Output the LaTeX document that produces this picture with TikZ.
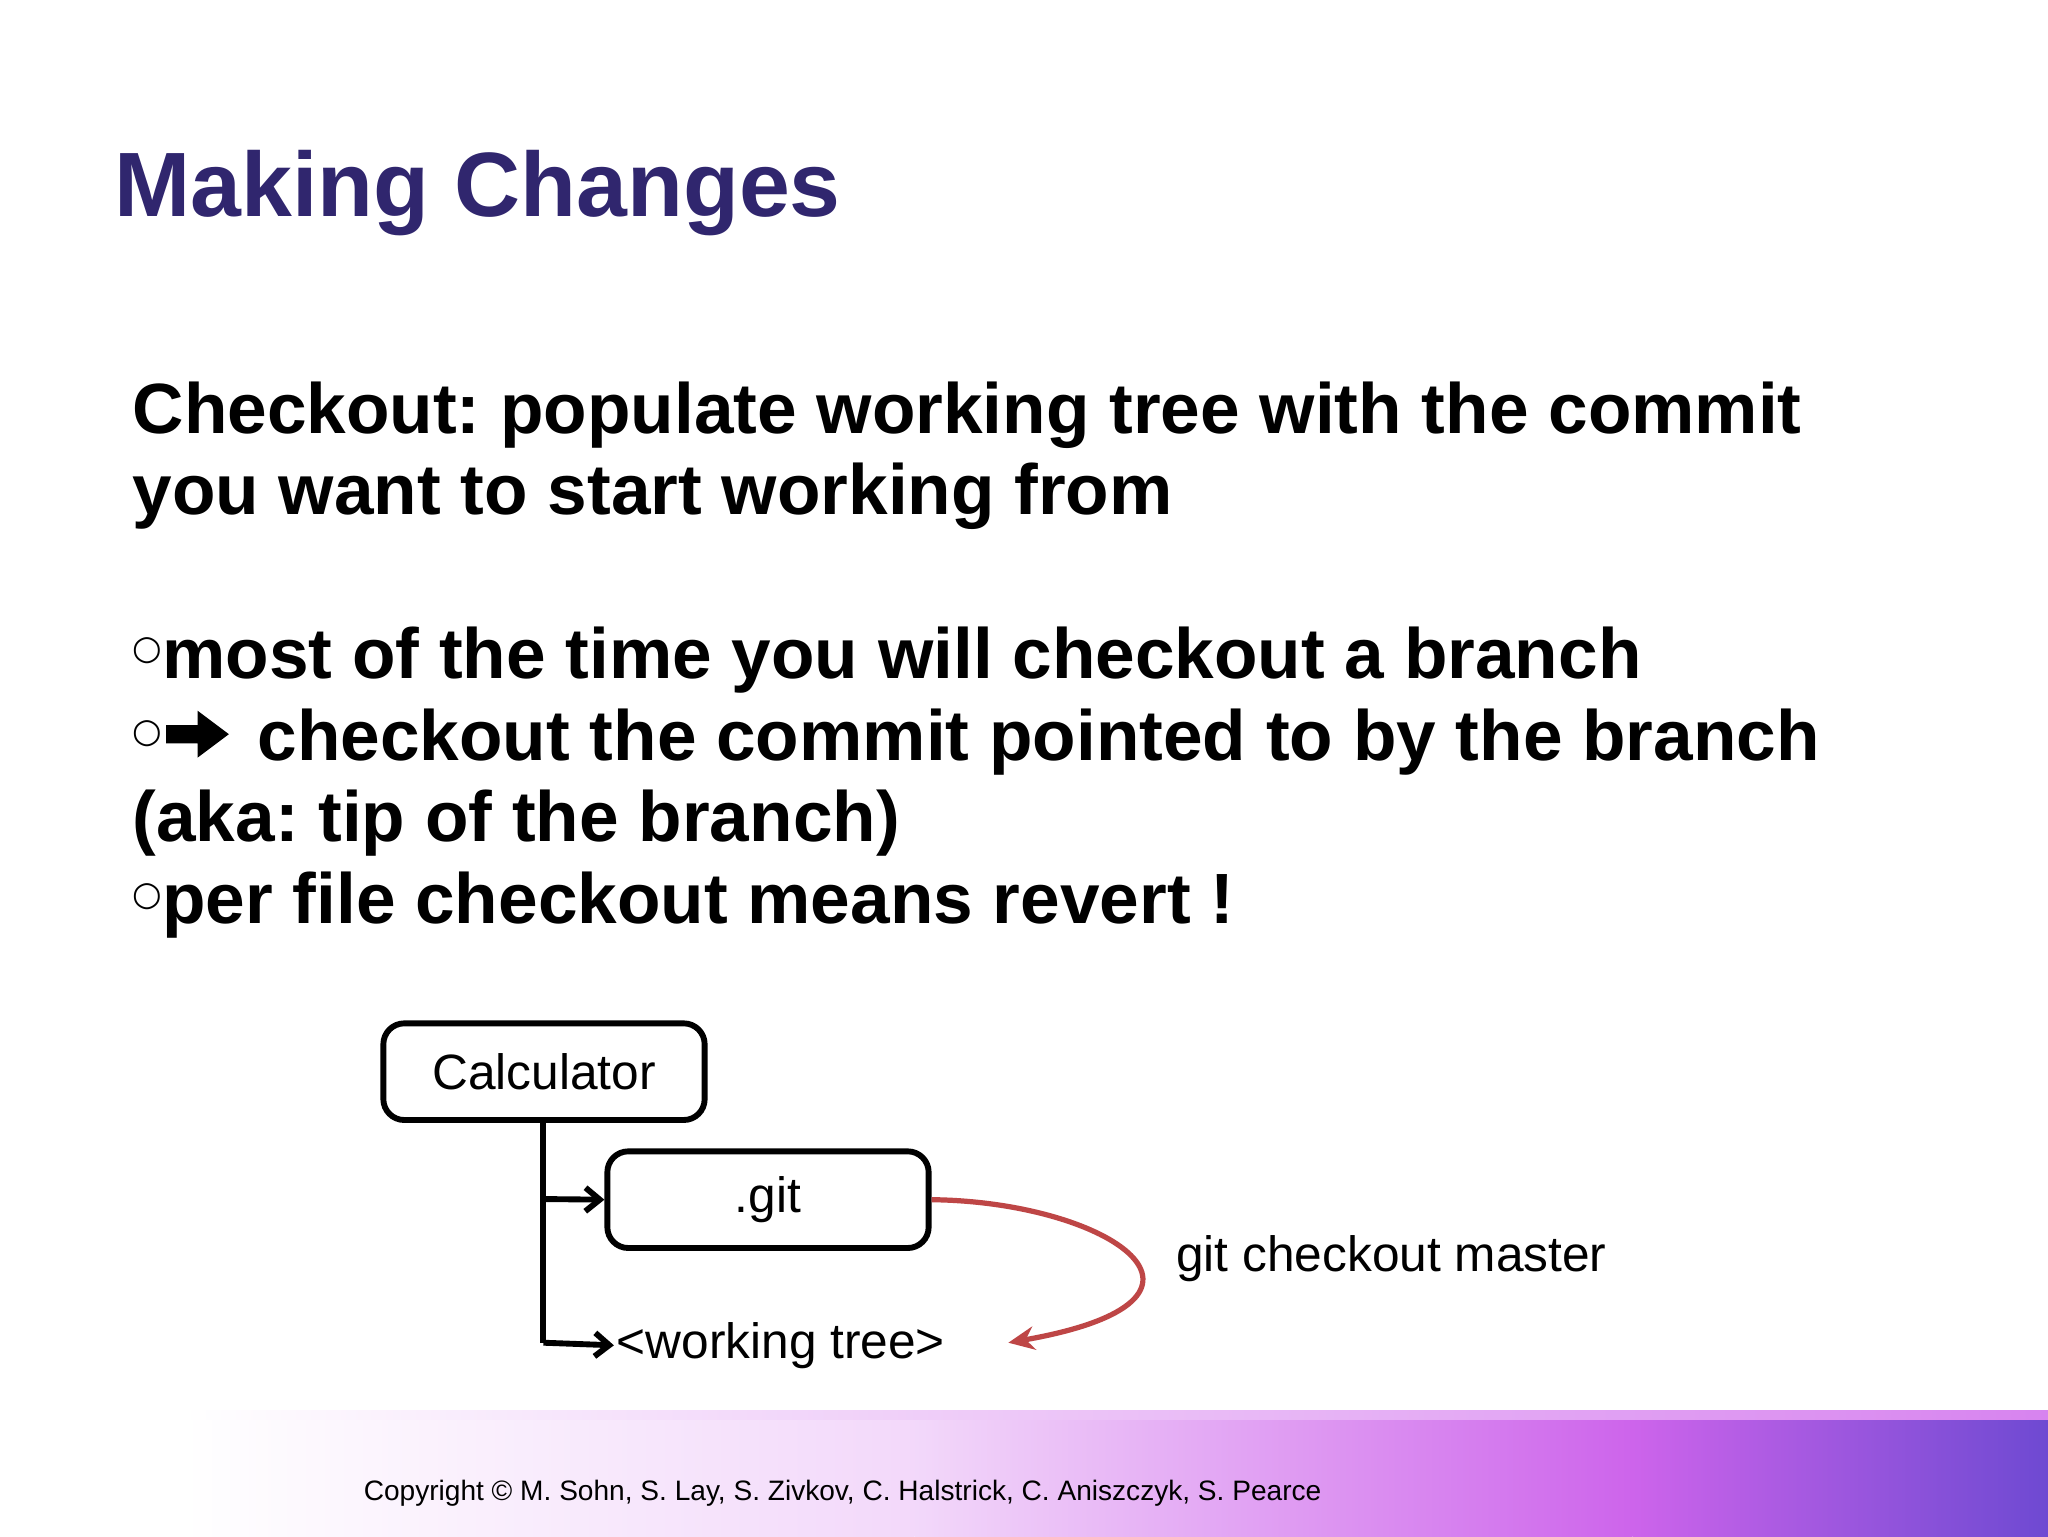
\documentclass[tikz,border=0pt]{standalone}
\usepackage{fontspec}
\setmainfont{Liberation Sans}
\newfontfamily\symfont{DejaVu Sans}
\usetikzlibrary{arrows.meta}
\frenchspacing
\definecolor{titleblue}{RGB}{48,38,110}
\definecolor{arrred}{RGB}{190,70,70}
\definecolor{purp}{RGB}{205,100,235}
\newcommand{\bul}{{\symfont\fontsize{26}{26}\selectfont\raisebox{14pt}{○}}}
\newcommand{\bigarr}{\tikz[baseline=0pt,x=1pt,y=1pt]\fill (0,13)--(24,13)--(24,2)--(48,20)--(24,38)--(24,27)--(0,27)--cycle;}
\begin{document}
\begin{tikzpicture}[x=1pt,y=-1pt,
  box/.style={draw,line width=4.5pt,rounded corners=16pt,minimum width=246pt,minimum height=74pt,font=\fontsize{38}{40}\selectfont},
  body/.style={anchor=west,font=\fontsize{54.5}{58}\selectfont\bfseries},
  tip/.style={-{Straight Barb[length=11pt,width=18pt,line width=4.5pt]},line width=4.5pt}]
\useasboundingbox (0,0) rectangle (1568,1176);
\fill[white] (0,0) rectangle (1568,1176);
% footer
\shade[left color=white,right color=purp!25] (140,1082) rectangle (700,1176);
\shade[left color=purp!25,right color=purp] (700,1082) rectangle (1250,1176);
\shade[left color=purp,right color=purp!50!blue!70!gray] (1250,1082) rectangle (1568,1176);
\shade[left color=white,right color=purp!80] (140,1080) rectangle (1568,1087);
\node[anchor=west,font=\fontsize{21.5}{24}\selectfont] (copy) at (275,1143) {Copyright © M. Sohn, S. Lay, S. Zivkov, C. Halstrick, C. Aniszczyk, S. Pearce};
% title
\node[anchor=west,text=titleblue,font=\fontsize{70}{72}\selectfont\bfseries] (title) at (84,148) {Making Changes};
\node[body] (l1) at (98,318) {Checkout: populate working tree with the commit};
\node[body] (l2) at (98,380) {you want to start working from};
\node[body] (l3) at (98,505) {\bul most of the time you will checkout a branch};
\node[body] (l4) at (98,568) {\bul\hspace{3pt}\bigarr\hspace{22pt}checkout the commit pointed to by the branch};
\node[body] (l5) at (98,630) {(aka: tip of the branch)};
\node[body] (l6) at (98,693) {\bul per file checkout means revert !};
% diagram
\node[box] (calc) at (416.5,820.5) {Calculator};
\node[box] (git) at (588,918.5) {.git};
\node[anchor=west,font=\fontsize{38}{40}\selectfont,inner sep=2pt] (wt) at (470,1030) {<working tree>};
\coordinate (c0) at (416,858);
\coordinate (c1) at (416,918);
\coordinate (c2) at (416,1028);
\draw[line width=4.5pt] (calc.south -| c0) -- (c2);
\draw[tip] (c1) -- (git.west);
\draw[tip] (c2) -- (wt.west);
\coordinate (rend) at (772,1028);
\draw[arrred,line width=4pt,-{Stealth[length=20pt,width=18pt]}] (git.east) .. controls (850,920) and (960,995) .. (rend);
\node[anchor=west,font=\fontsize{38}{40}\selectfont] (lab) at (897,964) {git checkout master};
\end{tikzpicture}
\end{document}
